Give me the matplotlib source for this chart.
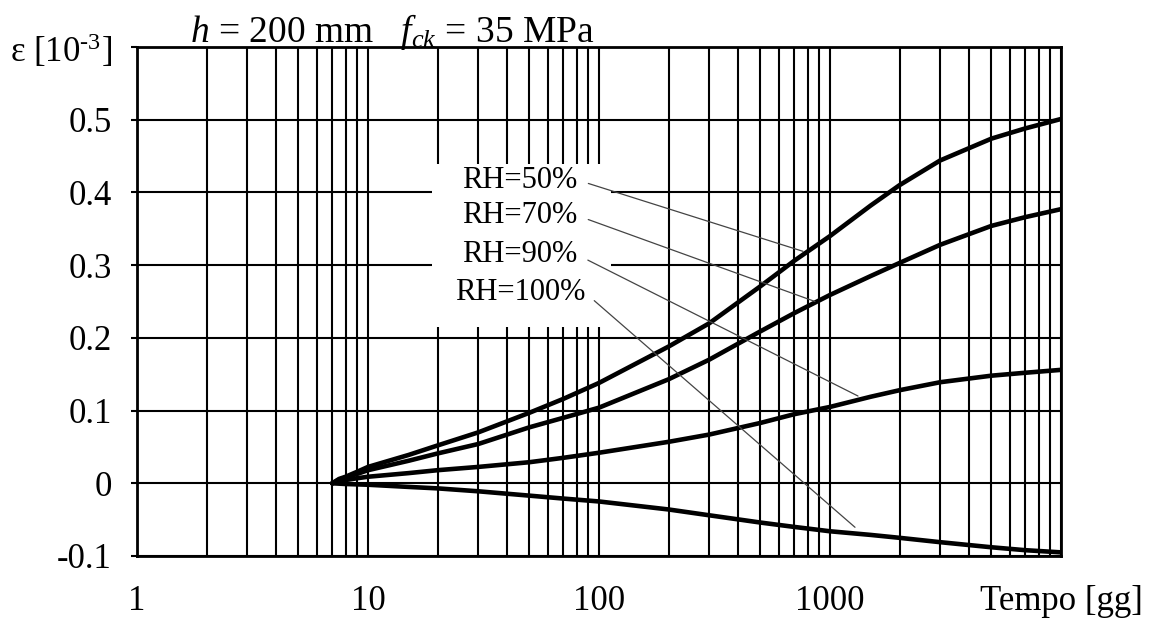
import matplotlib
matplotlib.use("Agg")
import matplotlib.pyplot as plt
from matplotlib.patches import Rectangle

# time [days] and shrinkage strain [10^-3]
t = [7, 7.5, 8, 9, 10, 15, 20, 30, 50, 70, 100, 200, 300, 500, 700, 1000, 1500, 2000, 3000, 5000, 7000, 10000]
eps_rh50 = [0, 0.006, 0.009, 0.016, 0.0225, 0.039, 0.052, 0.070, 0.097, 0.116, 0.138, 0.188, 0.220, 0.271,
            0.306, 0.340, 0.382, 0.410, 0.444, 0.474, 0.488, 0.501]
eps_rh70 = [0, 0.005, 0.008, 0.013, 0.018, 0.031, 0.041, 0.054, 0.077, 0.090, 0.104, 0.143, 0.170, 0.209,
            0.234, 0.259, 0.285, 0.303, 0.328, 0.354, 0.366, 0.377]
eps_rh90 = [0, 0.0025, 0.0045, 0.007, 0.009, 0.014, 0.018, 0.0225, 0.029, 0.035, 0.042, 0.057, 0.067, 0.083,
            0.095, 0.105, 0.119, 0.128, 0.139, 0.148, 0.152, 0.156]
eps_rh100 = [0, -0.0005, -0.001, -0.0015, -0.002, -0.005, -0.007, -0.011, -0.017, -0.021, -0.025, -0.036, -0.044,
             -0.054, -0.060, -0.066, -0.071, -0.075, -0.081, -0.088, -0.092, -0.095]

series = [eps_rh50, eps_rh70, eps_rh90, eps_rh100]
labels = ["RH=50%", "RH=70%", "RH=90%", "RH=100%"]
# where each label sits and the point on the curve its leader line reaches
label_xy = [(45.5, 0.417), (45.5, 0.368), (45.5, 0.314), (45.5, 0.262)]
leader_end = [(764, 0.319), (861, 0.250), (1322, 0.120), (1283, -0.0605)]

x_ticks = [1, 10, 100, 1000, 10000]
x_ticklabels = ["1", "10", "100", "1000", "Tempo [gg]"]
y_ticks = [-0.1, 0, 0.1, 0.2, 0.3, 0.4, 0.5, 0.6]
y_ticklabels = ["-0.1", "0", "0.1", "0.2", "0.3", "0.4", "0.5", r"ε [10$^{\text{-3}}$]"]

plt.rcParams["font.family"] = ["Liberation Serif", "DejaVu Serif"]
plt.rcParams["mathtext.fontset"] = "custom"
plt.rcParams["mathtext.rm"] = "Liberation Serif"
plt.rcParams["mathtext.it"] = "Liberation Serif:italic"

fig = plt.figure(figsize=(11.52, 6.28), dpi=100)
ax = fig.add_axes([137 / 1152, 1 - 556 / 628, 924 / 1152, 509 / 628])

ax.set_xscale("log")
ax.set_xlim(1, 10000)
ax.set_ylim(-0.1, 0.6)

# grid: every integer in each decade, every 0.1 in strain
ax.set_axisbelow(True)
ax.grid(True, which="both", axis="x", color="black", linewidth=1.5)
ax.grid(True, which="major", axis="y", color="black", linewidth=1.5)

ax.set_xticks(x_ticks)
ax.set_xticklabels(x_ticklabels)
ax.set_yticks(y_ticks)
ax.set_yticklabels(y_ticklabels)
ax.tick_params(axis="x", which="both", length=0, pad=21, labelsize=25)
ax.tick_params(axis="y", length=4, width=1.5, direction="out", pad=14, labelsize=25)
for s in ax.spines.values():
    s.set_linewidth(2)

# white box behind the labels
ax.add_patch(Rectangle((18.9, 0.215), 112.7 - 18.9, 0.224, facecolor="white",
                       edgecolor="none", zorder=1))

for eps in series:
    ax.plot(t, eps, color="black", linewidth=3.3, zorder=3,
            solid_capstyle="round", solid_joinstyle="round")

for lab, xy, end in zip(labels, label_xy, leader_end):
    ax.annotate(lab, xy=end, xytext=xy, ha="center", va="center", fontsize=22, zorder=4,
                arrowprops=dict(arrowstyle="-", color="#444444", linewidth=0.9,
                                shrinkA=6, shrinkB=0, relpos=(1, 0.5)))

fig.text(190 / 1152, 1 - 42 / 628, r"$h$ = 200 mm   $f_{ck}$ = 35 MPa", fontsize=27,
         va="baseline", ha="left")

fig.savefig("out.png", dpi=100)
